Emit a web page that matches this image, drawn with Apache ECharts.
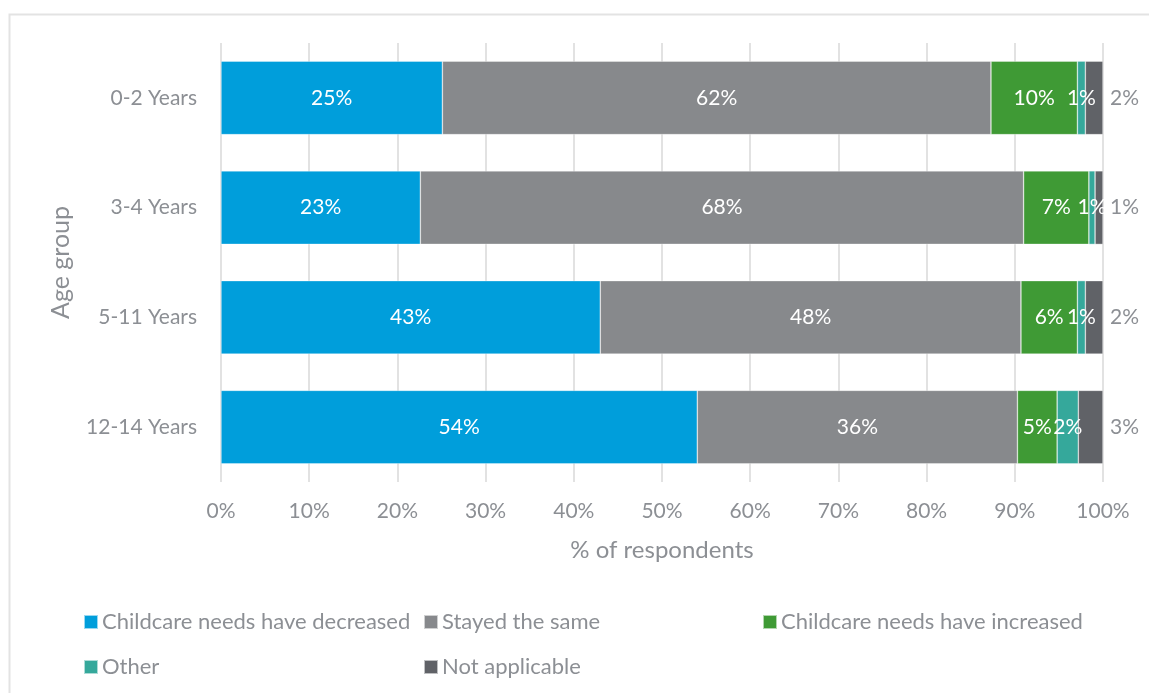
<!DOCTYPE html>
<html>
<head>
<meta charset="utf-8">
<script src="https://cdn.jsdelivr.net/npm/echarts@6/dist/echarts.min.js"></script>
<style>
  html, body { margin: 0; padding: 0; background: #fff; }
  #chart { width: 1149px; height: 693px; }
</style>
</head>
<body>
<div id="chart"></div>
<script>
// Age groups, top to bottom
const ageGroups = ['0-2 Years', '3-4 Years', '5-11 Years', '12-14 Years'];

// Share of respondents (%) per answer, in the same order as ageGroups
const decreased = [25.1, 22.6, 43.0, 54.0];
const stayedSame = [62.2, 68.4, 47.7, 36.3];
const increased = [9.8, 7.4, 6.4, 4.5];
const other = [0.9, 0.7, 0.9, 2.4];
const notApplicable = [2.0, 0.9, 2.0, 2.8];

const xTicks = [0, 10, 20, 30, 40, 50, 60, 70, 80, 90, 100];

const FONT = 'Lato, "Open Sans", sans-serif';
const TEXT_GREY = '#8c8f94';

const seriesDefs = [
  { name: 'Childcare needs have decreased', data: decreased, color: '#009edb' },
  { name: 'Stayed the same', data: stayedSame, color: '#87898c' },
  { name: 'Childcare needs have increased', data: increased, color: '#3f9a35' },
  { name: 'Other', data: other, color: '#35a89b' },
  { name: 'Not applicable', data: notApplicable, color: '#606267', outside: true }
];

// Categories are reversed so the first group sits at the top
const cats = ageGroups.slice().reverse();

const series = seriesDefs.map(s => ({
  name: s.name,
  type: 'bar',
  stack: 'total',
  barCategoryGap: '33%',
  data: s.data.slice().reverse(),
  itemStyle: { color: s.color, borderColor: 'rgba(255,255,255,0.6)', borderWidth: 0.6 },
  label: {
    show: true,
    position: s.outside ? 'right' : 'inside',
    distance: 7,
    color: s.outside ? TEXT_GREY : '#ffffff',
    fontFamily: FONT,
    fontSize: 21,
    formatter: p => Math.round(p.value) + '%'
  },
  labelLayout: { hideOverlap: false }
}));

// One legend block per entry so the entries sit on a fixed grid
const legendPos = [
  { left: 83, top: 611 },
  { left: 423, top: 611 },
  { left: 762, top: 611 },
  { left: 83, top: 656 },
  { left: 423, top: 656 }
];
const legends = seriesDefs.map((s, i) => ({
  data: [s.name],
  left: legendPos[i].left,
  top: legendPos[i].top,
  itemWidth: 14,
  itemHeight: 14,
  itemGap: 0,
  padding: 0,
  icon: 'rect',
  selectedMode: false,
  textStyle: { color: TEXT_GREY, fontFamily: FONT, fontSize: 22, padding: [0, 0, 0, -1] }
}));

const chart = echarts.init(document.getElementById('chart'), null, { renderer: 'canvas' });
chart.setOption({
  animation: false,
  backgroundColor: '#ffffff',
  graphic: [{
    type: 'rect',
    shape: { x: 9.5, y: 14.5, width: 1160, height: 700 },
    style: { fill: 'none', stroke: '#e3e3e3', lineWidth: 2 },
    silent: true
  }],
  grid: { left: 221, right: 46, top: 43, bottom: 211, containLabel: false },
  xAxis: {
    type: 'value',
    min: xTicks[0],
    max: xTicks[xTicks.length - 1],
    interval: 10,
    name: '% of respondents',
    nameLocation: 'middle',
    nameGap: 56,
    nameTextStyle: { color: TEXT_GREY, fontFamily: FONT, fontSize: 24 },
    axisLine: { show: false },
    axisTick: { show: false },
    axisLabel: { color: TEXT_GREY, fontFamily: FONT, fontSize: 21, margin: 19, formatter: v => v + '%' },
    splitLine: { show: true, lineStyle: { color: '#e2e2e2', width: 2 } }
  },
  yAxis: {
    type: 'category',
    data: cats,
    name: 'Age group',
    nameLocation: 'middle',
    nameGap: 148,
    nameRotate: 90,
    nameTextStyle: { color: TEXT_GREY, fontFamily: FONT, fontSize: 25 },
    axisLine: { show: false },
    axisTick: { show: false },
    axisLabel: { color: TEXT_GREY, fontFamily: FONT, fontSize: 21, margin: 24 },
    splitLine: { show: false }
  },
  legend: legends,
  series: series
});
</script>
</body>
</html>
